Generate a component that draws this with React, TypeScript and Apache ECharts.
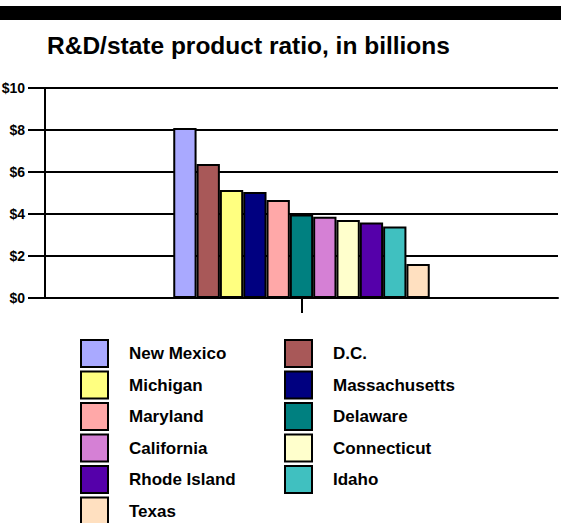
import React, { useEffect, useRef } from "react";
import * as echarts from "echarts";

const states = [
  "New Mexico",
  "D.C.",
  "Michigan",
  "Massachusetts",
  "Maryland",
  "Delaware",
  "California",
  "Connecticut",
  "Rhode Island",
  "Idaho",
  "Texas",
];
const values = [8.1, 6.38, 5.14, 5.05, 4.67, 3.98, 3.87, 3.71, 3.6, 3.41, 1.62];
const colors = [
  "#A9A9FF",
  "#A85858",
  "#FFFF80",
  "#000080",
  "#FFA8A8",
  "#008080",
  "#D580D5",
  "#FFFFCC",
  "#5500AA",
  "#40C0C0",
  "#FFE0C0",
];
const categories = [""];
const titleText = "R&D/state product ratio, in billions";

export default function App() {
  const ref = useRef<HTMLDivElement>(null);
  useEffect(() => {
    if (!ref.current) return;
    const chart = echarts.init(ref.current, null, { renderer: "svg" });
    const leftCol = states.filter((_, i) => i % 2 === 0);
    const rightCol = states.filter((_, i) => i % 2 === 1);
    const legendBase = {
      orient: "vertical" as const,
      top: 339,
      height: 200,
      padding: 0,
      itemWidth: 27,
      itemHeight: 27,
      itemGap: 2.5,
      icon: "rect",
      itemStyle: { borderColor: "#000", borderWidth: 2 },
      textStyle: {
        fontFamily: "Liberation Sans",
        fontWeight: "bold" as const,
        fontSize: 17,
        color: "#000",
        padding: [0, 0, 0, 16],
      },
      selectedMode: false,
    };
    chart.setOption({
      animation: false,
      backgroundColor: "#fff",
      title: {
        text: titleText,
        left: 47,
        top: 33,
        padding: 0,
        textStyle: {
          fontFamily: "Liberation Sans",
          fontWeight: "bold",
          fontSize: 24.5,
          color: "#000",
        },
      },
      graphic: [
        {
          type: "rect",
          shape: { x: 0, y: 6, width: 561, height: 14 },
          style: { fill: "#000" },
        },
      ],
      legend: [
        { ...legendBase, left: 80, data: leftCol },
        { ...legendBase, left: 284, data: rightCol },
      ],
      grid: {
        left: 45,
        right: 3,
        top: 88,
        bottom: 523 - 298,
        containLabel: false,
        outerBoundsMode: "none",
      },
      xAxis: {
        type: "category",
        data: categories,
        axisLine: { show: true, lineStyle: { color: "#000", width: 2 } },
        axisTick: {
          show: true,
          alignWithLabel: true,
          length: 15,
          lineStyle: { color: "#000", width: 2 },
        },
        axisLabel: { show: false },
      },
      yAxis: {
        type: "value",
        min: 0,
        max: 10,
        interval: 2,
        axisLine: { show: true, lineStyle: { color: "#000", width: 2 } },
        axisTick: { show: true, length: 17, lineStyle: { color: "#000", width: 2 } },
        splitLine: { show: true, lineStyle: { color: "#000", width: 2 } },
        axisLabel: {
          margin: 20,
          formatter: (v: number) => "$" + v,
          fontFamily: "Liberation Sans",
          fontWeight: "bold",
          fontSize: 14,
          color: "#000",
        },
      },
      series: states.map((name, i) => ({
        name,
        type: "bar",
        data: [values[i]],
        barGap: "0%",
        barCategoryGap: "50%",
        itemStyle: { color: colors[i], borderColor: "#000", borderWidth: 2 },
      })),
    });
    return () => chart.dispose();
  }, []);
  return (
    <div
      ref={ref}
      style={{ position: "fixed", left: 0, top: 0, width: 561, height: 523 }}
    />
  );
}
